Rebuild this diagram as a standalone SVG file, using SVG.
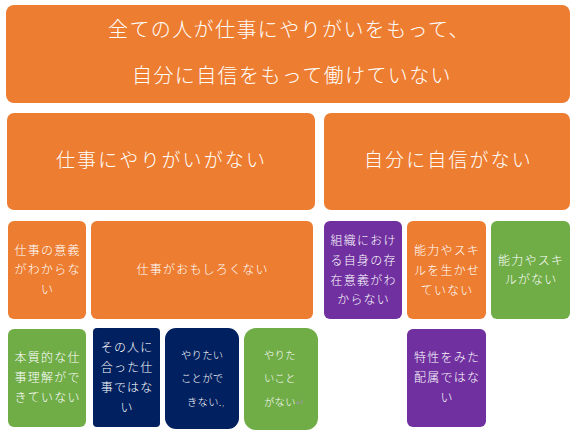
<svg xmlns="http://www.w3.org/2000/svg" width="574" height="438" viewBox="0 0 574 438">
<style>
text{font-family:"Noto Sans CJK JP","Noto Sans",sans-serif;fill:#ffffff;font-weight:300}
.big{font-size:20px;letter-spacing:1.4px}
.mid{font-size:19px;letter-spacing:2.1px}
.sm{font-size:12px;letter-spacing:1.2px;text-anchor:middle}
.xs{font-size:10.3px;letter-spacing:0.3px}
.o{fill:#ED7D31}
.g{fill:#70AD47}
.n{fill:#002060}
.p{fill:#7030A0}
.mark{fill:#9a9a9a}
</style>
<g id="top"><rect class="o" x="6" y="5" width="564" height="98" rx="8"/>
<text class="big" x="108" y="36.6">全ての人が仕事にやりがいをもって、</text>
<text class="big" x="132" y="82.6">自分に自信をもって働けていない</text></g>
<g id="n-yarigai"><rect class="o" x="7" y="113" width="308" height="97" rx="7"/>
<text class="mid" x="56" y="167.2">仕事にやりがいがない</text></g>
<g id="n-jishin"><rect class="o" x="324" y="113" width="246" height="97" rx="7"/>
<text class="mid" x="364" y="167.2">自分に自信がない</text></g>
<g id="n-igi"><rect class="o" x="8" y="221" width="78" height="98" rx="6"/>
<text class="sm" x="47.6" y="254.6">仕事の意義</text>
<text class="sm" x="47.6" y="273.6">がわからな</text>
<text class="sm" x="47.6" y="293.6">い</text></g>
<g id="n-omoshiro"><rect class="o" x="91" y="221" width="222" height="98" rx="6"/>
<text class="sm" x="202.6" y="273.6">仕事がおもしろくない</text></g>
<g id="n-soshiki"><rect class="p" x="324" y="221" width="78" height="98" rx="6"/>
<text class="sm" x="363.6" y="244.6">組織におけ</text>
<text class="sm" x="363.6" y="264.6">る自身の存</text>
<text class="sm" x="363.6" y="284.6">在意義がわ</text>
<text class="sm" x="363.6" y="303.6">からない</text></g>
<g id="n-ikase"><rect class="o" x="407" y="221" width="79" height="98" rx="6"/>
<text class="sm" x="447.1" y="254.6">能力やスキ</text>
<text class="sm" x="447.1" y="274.6">ルを生かせ</text>
<text class="sm" x="447.1" y="294.6">ていない</text></g>
<g id="n-skill"><rect class="g" x="491" y="221" width="79" height="98" rx="6"/>
<text class="sm" x="531.1" y="264.6">能力やスキ</text>
<text class="sm" x="531.1" y="283.6">ルがない</text></g>
<g id="n-honshitsu"><rect class="g" x="8" y="329" width="78" height="98" rx="6"/>
<text class="sm" x="47.6" y="361.6">本質的な仕</text>
<text class="sm" x="47.6" y="381.6">事理解がで</text>
<text class="sm" x="47.6" y="401.6">きていない</text></g>
<g id="n-atta"><rect class="n" x="93" y="328" width="67" height="99" rx="4"/>
<text class="sm" x="127.1" y="351.6">その人に</text>
<text class="sm" x="127.1" y="371.6">合った仕</text>
<text class="sm" x="127.1" y="391.6">事ではな</text>
<text class="sm" x="127.1" y="411.6">い</text></g>
<g id="n-dekinai"><rect class="n" x="165" y="328" width="74" height="101" rx="11"/>
<text class="xs" x="181" y="359">やりたい</text>
<text class="xs" x="181" y="382">ことがで</text>
<text class="xs" x="187" y="406">きない.<tspan class="mark">,</tspan></text></g>
<g id="n-nai"><rect class="g" x="244" y="328" width="74" height="102" rx="12"/>
<text class="xs" x="264" y="359">やりた</text>
<text class="xs" x="264" y="382">いこと</text>
<text class="xs" x="264" y="406">がない<tspan class="mark">↵</tspan></text></g>
<g id="n-haizoku"><rect class="p" x="407" y="329" width="79" height="98" rx="6"/>
<text class="sm" x="447.1" y="361.6">特性をみた</text>
<text class="sm" x="447.1" y="381.6">配属ではな</text>
<text class="sm" x="447.1" y="401.6">い</text></g>
<g id="connectors"></g>
</svg>
